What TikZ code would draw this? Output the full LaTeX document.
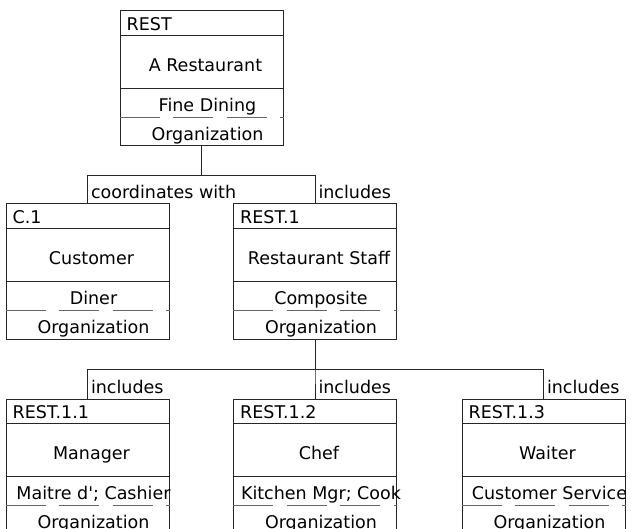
\documentclass[tikz,border=0pt]{standalone}
\usepackage{fontspec}
\setmainfont{DejaVu Sans}[Ligatures=TeXOff]
\usepackage{tikz}
\usetikzlibrary{positioning, calc}
\tikzstyle{unit} = [rectangle, draw=black!85, line width=1pt, minimum width=163pt, minimum height=135pt, inner sep=0pt]
\tikzstyle{divider} = [draw=black!85, line width=1pt]
\tikzstyle{roleline} = [draw=black!60, line width=1pt, dash pattern=on 40pt off 13.5pt]
\tikzstyle{boxtext} = [inner sep=0pt, font=\fontsize{17.5}{20}\selectfont]
\tikzstyle{link} = [draw=black!85, line width=1pt]
\tikzstyle{rellabel} = [inner sep=0pt, anchor=base west, xshift=3pt, yshift=5pt, font=\fontsize{17.5}{20}\selectfont]

% compartments of one unit box
\newcommand{\unitparts}[4]{%
  \draw[divider] ([yshift=-25pt]#1.north west) -- ([yshift=-25pt]#1.north east);
  \draw[divider] ([yshift=-78pt]#1.north west) -- ([yshift=-78pt]#1.north east);
  \draw[roleline] ([yshift=-107pt]#1.north west) -- ([yshift=-107pt]#1.north east);
  \node[boxtext, anchor=base west] (#1-id) at ([xshift=7pt,yshift=-20pt]#1.north west) {#2};
  \node[boxtext, anchor=base] (#1-title) at ([xshift=4pt,yshift=-61pt]#1.north) {#3};
  \node[boxtext, anchor=base] (#1-role) at ([xshift=6pt,yshift=-101pt]#1.north) {#4};
  \node[boxtext, anchor=base] (#1-kind) at ([xshift=6pt,yshift=-130pt]#1.north) {Organization};
}

\begin{document}
\begin{tikzpicture}
    \useasboundingbox (0,0) rectangle (631pt,-529pt);
    \clip (0,0) rectangle (631pt,-529pt);

    % === top: the restaurant ===
    \node[unit] (rest) at (201.5pt,-78.5pt) {};

    % === second row ===
    \node[unit, below=57pt of rest, xshift=-114pt] (c1) {};
    \node[unit, below=57pt of rest, xshift=113.5pt] (rest1) {};

    % === third row: staff ===
    \node[unit, below=59pt of rest1, xshift=-227.5pt] (rest11) {};
    \node[unit, below=59pt of rest1] (rest12) {};
    \node[unit, below=59pt of rest1, xshift=228.5pt] (rest13) {};

    \unitparts{rest}{REST}{A Restaurant}{Fine Dining}
    \unitparts{c1}{C.1}{Customer}{Diner}
    \unitparts{rest1}{REST.1}{Restaurant Staff}{Composite}
    \unitparts{rest11}{REST.1.1}{Manager}{Maitre d'; Cashier}
    \unitparts{rest12}{REST.1.2}{Chef}{Kitchen Mgr; Cook}
    \unitparts{rest13}{REST.1.3}{Waiter}{Customer Service}

    % ===== CONNECTORS =====
    \draw[link] (rest.south) -- ++(0,-29pt) -| (c1.north) node[rellabel] (lbl-c1) {coordinates with};
    \draw[link] (rest.south) -- ++(0,-29pt) -| (rest1.north) node[rellabel] (lbl-rest1) {includes};

    \draw[link] (rest1.south) -- ++(0,-30pt) -| (rest11.north) node[rellabel] (lbl-rest11) {includes};
    \draw[link] (rest1.south) -- ++(0,-30pt) -| (rest12.north) node[rellabel] (lbl-rest12) {includes};
    \draw[link] (rest1.south) -- ++(0,-30pt) -| (rest13.north) node[rellabel] (lbl-rest13) {includes};
\end{tikzpicture}
\end{document}
